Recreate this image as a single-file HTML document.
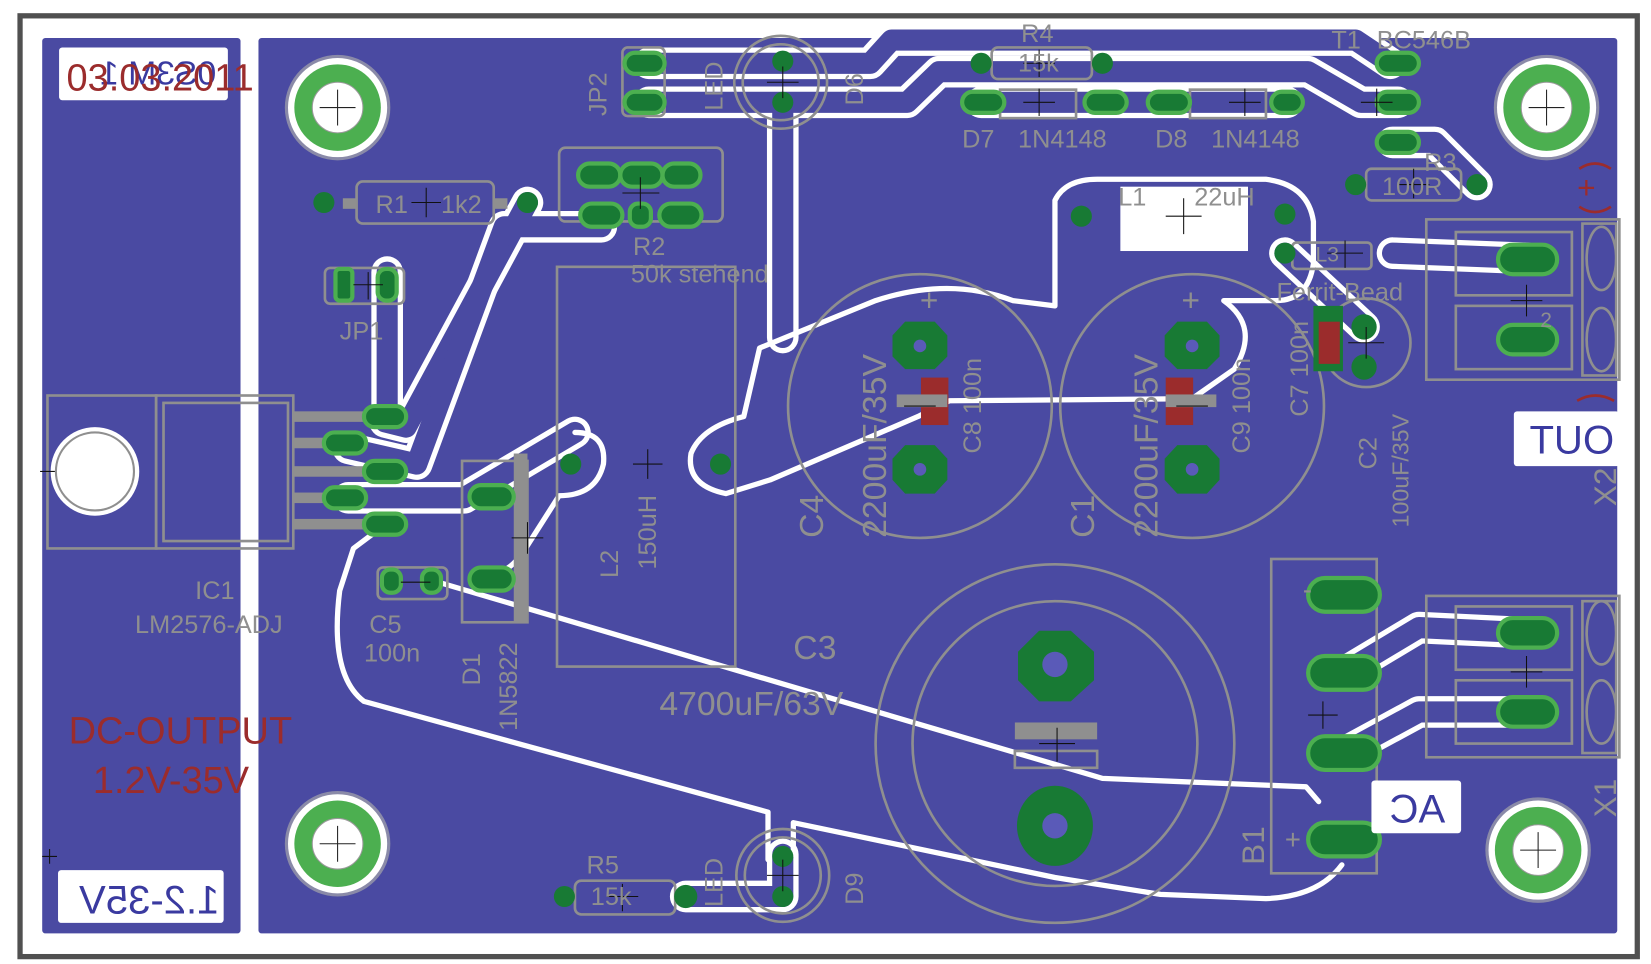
<!DOCTYPE html>
<html><head><meta charset="utf-8"><style>
html,body{margin:0;padding:0;background:#fff;}
svg{display:block;}
text{font-family:"Liberation Sans",sans-serif;}
</style></head><body>
<svg width="1651" height="964" viewBox="0 0 1565 914" preserveAspectRatio="none" xmlns="http://www.w3.org/2000/svg">
<rect x="0" y="0" width="1565" height="914" fill="#fff"/>
<rect x="19" y="15" width="1533" height="892" fill="none" stroke="#505050" stroke-width="5"/>
<rect x="40" y="36" width="188" height="849" rx="3" fill="#4a4aa2"/>
<rect x="245" y="36" width="1288" height="849" rx="3" fill="#4a4aa2"/>

<g fill="none" stroke-linejoin="round" stroke-linecap="round">
 <g stroke="#fff" stroke-width="30">
  <polyline points="615,60 825,60 845,38 1285,38 1318,60"/>
  <polyline points="615,97 860,97 890,68 1240,68 1290,97 1325,97"/>
  <polyline points="930,97 1220,97"/>
  <polyline points="1320,135 1360,135 1400,175"/>
  <polyline points="742,100 742,320"/>
  <polyline points="500,192 385,405 365,400"/>
  <polyline points="367,258 367,395"/>
  <polyline points="570,215 478,215 395,440 330,425"/>
  <polyline points="330,472 440,472 545,410"/>
  <polyline points="650,850 742,850 742,810"/>
  <polyline points="1275,637 1345,595 1448,600"/>
  <polyline points="1275,713 1345,675 1448,675"/>
  <polyline points="1448,245 1320,240"/>
  <polyline points="1218,240 1293,310"/>
 </g>
 <g stroke="#4a4aa2" stroke-width="20">
  <polyline points="615,60 825,60 845,38 1285,38 1318,60"/>
  <polyline points="615,97 860,97 890,68 1240,68 1290,97 1325,97"/>
  <polyline points="930,97 1220,97"/>
  <polyline points="1320,135 1360,135 1400,175"/>
  <polyline points="742,100 742,320"/>
  <polyline points="500,192 385,405 365,400"/>
  <polyline points="367,258 367,395"/>
  <polyline points="570,215 478,215 395,440 330,425"/>
  <polyline points="330,472 440,472 545,410"/>
  <polyline points="650,850 742,850 742,810"/>
  <polyline points="1275,637 1345,595 1448,600"/>
  <polyline points="1275,713 1345,675 1448,675"/>
  <polyline points="1448,245 1320,240"/>
  <polyline points="1218,240 1293,310"/>
 </g>
 <g stroke="#fff" stroke-width="5">
  <path d="M355,505 L335,520 L322,560 Q312,640 345,665 L728,770 L728,815 M752,810 L752,780 L1000,832 L1100,848 L1200,852 Q1250,850 1272,820 M1250,760 L1238,746 L1045,738 L402,548"/>
  <path d="M688,468 Q650,460 655,430 Q665,405 705,395 L720,330 L830,285 Q900,262 960,285 L1000,290 L1000,190 Q1010,170 1040,170 L1200,170 Q1240,175 1245,210 L1245,250 Q1240,285 1210,285 L1160,285 Q1195,310 1170,350 L1130,378 L900,380 L870,395 L730,455 Z"/>
  <path d="M545,410 Q575,410 572,440 Q565,470 530,470 L495,525 Q480,545 462,545"/>
 </g>
</g>
<rect x="1062" y="177" width="121" height="61" fill="#fff"/>

<g>
 <g transform="translate(320,102)"><circle r="50" fill="#8a8aa8"/><circle r="47" fill="#fff"/><circle r="41" fill="#4caf50"/><circle r="24" fill="#fff" stroke="#999" stroke-width="1"/></g>
 <g transform="translate(1466,102)"><circle r="50" fill="#8a8aa8"/><circle r="47" fill="#fff"/><circle r="41" fill="#4caf50"/><circle r="24" fill="#fff" stroke="#999" stroke-width="1"/></g>
 <g transform="translate(320,800)"><circle r="50" fill="#8a8aa8"/><circle r="47" fill="#fff"/><circle r="41" fill="#4caf50"/><circle r="24" fill="#fff" stroke="#999" stroke-width="1"/></g>
 <g transform="translate(1458,806)"><circle r="50" fill="#8a8aa8"/><circle r="47" fill="#fff"/><circle r="41" fill="#4caf50"/><circle r="24" fill="#fff" stroke="#999" stroke-width="1"/></g>
</g>
<g stroke="#222" stroke-width="1">
 <path d="M303,102h34M320,85v34M1449,102h34M1466,85v34M303,800h34M320,783v34M1441,806h34M1458,789v34"/>
</g>

<g fill="none" stroke="#8f8f8f" stroke-width="2.5">
 <rect x="45" y="375" width="103" height="145"/><rect x="148" y="375" width="130" height="145"/>
 <rect x="155" y="382" width="118" height="131"/>
 <rect x="590" y="45" width="40" height="65" rx="5"/>
 <circle cx="740" cy="78" r="44"/><circle cx="740" cy="78" r="36"/>
 <circle cx="742" cy="830" r="44"/><circle cx="742" cy="830" r="36"/>
 <rect x="338" y="172" width="130" height="40" rx="6"/>
 <rect x="530" y="140" width="155" height="70" rx="6"/>
 <rect x="308" y="254" width="75" height="34" rx="5"/>
 <rect x="528" y="253" width="169" height="379"/>
 <rect x="438" y="437" width="62" height="153"/>
 <rect x="358" y="538" width="66" height="30" rx="5"/>
 <rect x="545" y="835" width="95" height="32" rx="6"/>
 <rect x="940" y="45" width="95" height="30" rx="6"/>
 <rect x="948" y="85" width="72" height="27"/>
 <rect x="1128" y="85" width="72" height="27"/>
 <rect x="1295" y="160" width="90" height="30" rx="5"/>
 <rect x="1225" y="230" width="75" height="25" rx="4"/>
 <circle cx="1295" cy="325" r="42"/>
 <circle cx="872" cy="385" r="125"/>
 <circle cx="1130" cy="385" r="125"/>
 <circle cx="1000" cy="705" r="170"/><circle cx="1000" cy="705" r="135"/>
 <rect x="962" y="712" width="78" height="16"/>
 <rect x="1205" y="530" width="100" height="298"/>
 <rect x="1352" y="208" width="183" height="152"/><rect x="1500" y="212" width="32" height="144"/>
 <rect x="1352" y="565" width="183" height="153"/><rect x="1500" y="570" width="32" height="144"/>
 <ellipse cx="1518" cy="245" rx="14" ry="30"/><ellipse cx="1518" cy="322" rx="14" ry="30"/>
 <ellipse cx="1518" cy="600" rx="14" ry="30"/><ellipse cx="1518" cy="675" rx="14" ry="30"/>
 <rect x="1380" y="220" width="110" height="60"/><rect x="1380" y="290" width="110" height="60"/>
 <rect x="1380" y="575" width="110" height="60"/><rect x="1380" y="645" width="110" height="60"/>
</g>
<g fill="#8f8f8f">
 <rect x="278" y="390" width="85" height="10"/><rect x="278" y="415" width="50" height="10"/>
 <rect x="278" y="442" width="85" height="10"/><rect x="278" y="467" width="50" height="10"/>
 <rect x="278" y="492" width="85" height="10"/>
 <rect x="487" y="430" width="13" height="160"/>
 <rect x="962" y="685" width="78" height="16"/>
 <rect x="325" y="188" width="13" height="10"/><rect x="468" y="188" width="13" height="10"/>
</g>
<circle cx="90" cy="447" r="42" fill="#fff"/><circle cx="90" cy="447" r="37" fill="none" stroke="#8f8f8f" stroke-width="2"/>

<g fill="#187a34">
 <g stroke="#4caf50" stroke-width="4">
  <rect x="592" y="50" width="38" height="20" rx="10"/><rect x="592" y="87" width="38" height="20" rx="10"/>
  <rect x="548" y="155" width="40" height="22" rx="11"/><rect x="588" y="155" width="40" height="22" rx="11"/><rect x="628" y="155" width="36" height="22" rx="11"/>
  <rect x="550" y="193" width="40" height="22" rx="11"/><rect x="597" y="193" width="20" height="22" rx="8"/><rect x="625" y="193" width="40" height="22" rx="11"/>
  <rect x="345" y="385" width="40" height="20" rx="10"/><rect x="307" y="410" width="40" height="20" rx="10"/>
  <rect x="345" y="437" width="40" height="20" rx="10"/><rect x="307" y="462" width="40" height="20" rx="10"/>
  <rect x="345" y="487" width="40" height="20" rx="10"/>
  <rect x="445" y="460" width="42" height="22" rx="11"/><rect x="445" y="538" width="42" height="22" rx="11"/>
  <rect x="912" y="87" width="40" height="20" rx="10"/><rect x="1028" y="87" width="40" height="20" rx="10"/>
  <rect x="1088" y="87" width="40" height="20" rx="10"/><rect x="1205" y="87" width="30" height="20" rx="10"/>
  <rect x="1305" y="50" width="40" height="20" rx="10"/><rect x="1305" y="87" width="40" height="20" rx="10"/><rect x="1305" y="125" width="40" height="20" rx="10"/>
  <rect x="1420" y="232" width="56" height="28" rx="14"/><rect x="1420" y="308" width="56" height="28" rx="14"/>
  <rect x="1420" y="586" width="56" height="28" rx="14"/><rect x="1420" y="661" width="56" height="28" rx="14"/>
  <rect x="1240" y="548" width="68" height="32" rx="16"/><rect x="1240" y="622" width="68" height="32" rx="16"/>
  <rect x="1240" y="698" width="68" height="32" rx="16"/><rect x="1240" y="780" width="68" height="32" rx="16"/>
  <rect x="318" y="255" width="16" height="30" rx="4"/><rect x="358" y="255" width="18" height="30" rx="8"/>
  <rect x="362" y="540" width="18" height="22" rx="8"/><rect x="400" y="540" width="18" height="22" rx="8"/>
 </g>
 <circle cx="307" cy="192" r="10"/><circle cx="500" cy="192" r="10"/>
 <circle cx="742" cy="58" r="10"/><circle cx="742" cy="97" r="10"/>
 <circle cx="742" cy="812" r="10"/><circle cx="742" cy="850" r="10"/>
 <circle cx="535" cy="850" r="10"/><circle cx="650" cy="850" r="11"/>
 <circle cx="930" cy="60" r="10"/><circle cx="1045" cy="60" r="10"/>
 <circle cx="1285" cy="175" r="10"/><circle cx="1400" cy="175" r="10"/>
 <circle cx="1025" cy="205" r="10"/><circle cx="1218" cy="203" r="10"/><circle cx="1218" cy="240" r="10"/>
 <circle cx="1293" cy="310" r="12"/><circle cx="1293" cy="348" r="12"/>
 <circle cx="541" cy="440" r="10"/><circle cx="683" cy="440" r="10"/>
 <polygon points="858,305 886,305 898,318 898,338 886,350 858,350 846,338 846,318"/>
 <polygon points="858,422 886,422 898,435 898,455 886,468 858,468 846,455 846,435"/>
 <polygon points="1116,305 1144,305 1156,318 1156,338 1144,350 1116,350 1104,338 1104,318"/>
 <polygon points="1116,422 1144,422 1156,435 1156,455 1144,468 1116,468 1104,455 1104,435"/>
 <polygon points="985,598 1015,598 1037,618 1037,645 1015,665 985,665 965,645 965,618"/>
 <ellipse cx="1000" cy="783" rx="36" ry="38"/>
 <rect x="1245" y="290" width="28" height="62"/>
</g>
<g fill="#5a5ab8">
 <circle cx="1000" cy="630" r="12"/><circle cx="1000" cy="783" r="12"/>
 <circle cx="872" cy="328" r="6"/><circle cx="872" cy="445" r="6"/><circle cx="1130" cy="328" r="6"/><circle cx="1130" cy="445" r="6"/>
</g>
<g fill="#9b2c2c"><rect x="873" y="358" width="26" height="45"/><rect x="1105" y="358" width="26" height="45"/><rect x="1250" y="305" width="20" height="40"/></g>
<g fill="#8f8f8f"><rect x="850" y="374" width="48" height="12"/><rect x="1105" y="374" width="48" height="12"/></g>

<g stroke="#111" stroke-width="1">
 <path d="M390,192h28M404,178v28M590,183h35M607,168v30M335,270h28M349,258v26M727,78h30M742,63v30M727,830h30M742,815v30M575,850h30M590,838v26M600,440h28M614,426v28M485,510h30M500,495v30M380,552h28M970,60h30M985,47v26M970,97h30M985,84v26M1165,97h30M1180,84v26M1290,97h30M1305,84v26M1325,175h30M1340,160v28M1105,205h34M1122,188v34M1258,240h34M1275,228v26M1278,325h34M1295,310v30M857,385h30M1115,385h30M985,705h34M1002,690v32M1240,678h28M1254,665v26M1432,285h30M1447,270v30M1432,637h30M1447,622v30M38,447h14M47,805v14M40,812h14"/>
</g>

<g fill="#8f8f8f" font-size="24">
 <text x="356" y="202">R1</text><text x="418" y="202">1k2</text>
 <text x="322" y="322">JP1</text>
 <text x="600" y="242">R2</text><text x="598" y="268">50k stehend</text>
 <text x="185" y="568">IC1</text><text x="128" y="600">LM2576-ADJ</text>
 <text x="350" y="600">C5</text><text x="345" y="627">100n</text>
 <text x="556" y="828">R5</text><text x="560" y="858">15k</text>
 <text x="968" y="40">R4</text><text x="965" y="68">15k</text>
 <text x="912" y="140">D7</text><text x="965" y="140">1N4148</text>
 <text x="1095" y="140">D8</text><text x="1148" y="140">1N4148</text>
 <text x="1262" y="46">T1</text><text x="1305" y="46">BC546B</text>
 <text x="1310" y="185">100R</text><text x="1350" y="162">R3</text>
 <text x="1060" y="195">L1</text><text x="1132" y="195">22uH</text>
 <text x="1210" y="285">Ferrit-Bead</text>
 <text x="1247" y="248" font-size="20">L3</text>
 <text x="752" y="625" font-size="32">C3</text><text x="625" y="678" font-size="32">4700uF/63V</text>
 <text x="1235" y="568" font-size="26">-</text><text x="1218" y="805" font-size="26">+</text>
 <text x="1460" y="310" font-size="20">2</text>
 <g transform="translate(575,110) rotate(-90)"><text>JP2</text></g>
 <g transform="translate(685,105) rotate(-90)"><text>LED</text></g>
 <g transform="translate(818,100) rotate(-90)"><text>D6</text></g>
 <g transform="translate(685,860) rotate(-90)"><text>LED</text></g>
 <g transform="translate(818,858) rotate(-90)"><text>D9</text></g>
 <g transform="translate(586,548) rotate(-90)"><text>L2</text></g>
 <g transform="translate(622,540) rotate(-90)"><text>150uH</text></g>
 <g transform="translate(455,650) rotate(-90)"><text>D1</text></g>
 <g transform="translate(490,693) rotate(-90)"><text>1N5822</text></g>
 <g transform="translate(780,510) rotate(-90)"><text font-size="32">C4</text></g>
 <g transform="translate(840,510) rotate(-90)"><text font-size="32">2200uF/35V</text></g>
 <g transform="translate(930,430) rotate(-90)"><text>C8 100n</text></g>
 <g transform="translate(1037,510) rotate(-90)"><text font-size="32">C1</text></g>
 <g transform="translate(1097,510) rotate(-90)"><text font-size="32">2200uF/35V</text></g>
 <g transform="translate(1185,430) rotate(-90)"><text>C9 100n</text></g>
 <g transform="translate(1240,395) rotate(-90)"><text>C7 100n</text></g>
 <g transform="translate(1305,445) rotate(-90)"><text>C2</text></g>
 <g transform="translate(1335,500) rotate(-90)"><text font-size="22">100uF/35V</text></g>
 <g transform="translate(1198,820) rotate(-90)"><text font-size="30">B1</text></g>
 <g transform="translate(1532,480) rotate(-90)"><text font-size="30">X2</text></g>
 <g transform="translate(1532,775) rotate(-90)"><text font-size="30">X1</text></g>
 <text x="872" y="295" font-size="30">+</text><text x="1120" y="295" font-size="30">+</text>
</g>

<rect x="56" y="45" width="160" height="50" rx="3" fill="#fff"/>
<rect x="55" y="825" width="157" height="50" rx="3" fill="#fff"/>
<rect x="1435" y="390" width="100" height="52" rx="3" fill="#fff"/>
<rect x="1300" y="740" width="85" height="50" rx="3" fill="#fff"/>
<g fill="#3a3aa0" font-size="38">
 <g transform="translate(205,80) scale(-1,1)"><text x="0" y="0" font-size="32">0S3M 1</text></g>
 <g transform="translate(208,866) scale(-1,1)"><text x="0" y="0">1.2-35V</text></g>
 <g transform="translate(1530,430) scale(-1,1)"><text x="0" y="0">OUT</text></g>
 <g transform="translate(1370,780) scale(-1,1)"><text x="0" y="0">AC</text></g>
</g>
<g fill="#9b2c2c" font-size="36">
 <text x="63" y="86">03.03.2011</text>
 <text x="65" y="705">DC-OUTPUT</text>
 <text x="88" y="752">1.2V-35V</text>
 <text x="1495" y="188" font-size="30">+</text>
</g>
<g fill="none" stroke="#9b2c2c" stroke-width="2.5">
 <path d="M1497,160 Q1512,150 1527,160M1497,196 Q1512,206 1527,196"/>
 <path d="M1495,380 Q1512,370 1530,380"/>
</g>
</svg>
</body></html>
